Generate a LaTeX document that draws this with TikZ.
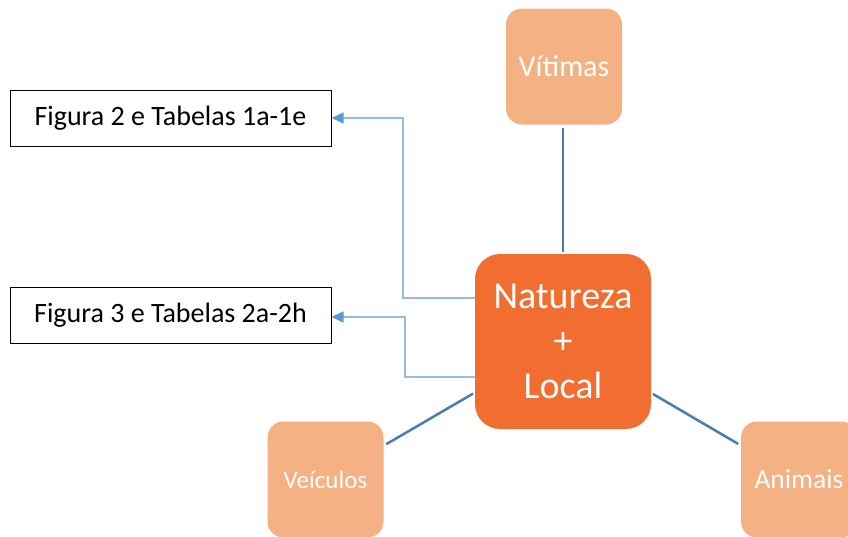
\documentclass[tikz,border=0pt]{standalone}
\usepackage{fontspec}
\setmainfont{Carlito}
\usetikzlibrary{arrows.meta}
\definecolor{ctrorange}{HTML}{F16D30}
\definecolor{lightorange}{HTML}{F4B183}
\definecolor{linkblue}{HTML}{4A7DB0}
\definecolor{arrline}{HTML}{93BCE6}
\definecolor{arrhead}{HTML}{5B9BD5}
\tikzset{
  centerbox/.style={fill=ctrorange, draw=none, rounded corners=25pt, minimum width=176pt, minimum height=175pt, text=white, align=center, inner sep=0pt, font=\fontsize{38}{45}\selectfont},
  outerbox/.style={fill=lightorange, draw=none, rounded corners=16pt, minimum width=116pt, minimum height=116pt, text=white, inner sep=0pt},
  refbox/.style={draw=black, line width=1pt, fill=white, minimum width=321pt, minimum height=56pt, inner sep=0pt, font=\fontsize{28}{34}\selectfont},
  link/.style={draw=linkblue, line width=2.5pt, shorten <=3pt, shorten >=2pt},
  refarrow/.style={draw=arrline, line width=1.5pt, -{Triangle[length=12pt,width=11pt,fill=arrhead,color=arrhead]}}
}
\begin{document}
\begin{tikzpicture}[x=1pt,y=-1pt]
\useasboundingbox (0,0) rectangle (848,536);
\node[centerbox] (ctr) at (563,341.5) {Natureza\\+\\Local};
\node[outerbox, font=\fontsize{30}{36}\selectfont] (vit) at (564,66.5) {Vítimas};
\node[outerbox, font=\fontsize{25}{30}\selectfont] (vei) at (325.5,479.5) {Veículos};
\node[outerbox, font=\fontsize{27.5}{33}\selectfont] (ani) at (799,479.5) {Animais};
\node[refbox] (b1) at (170.5,118) {Figura 2 e Tabelas 1a-1e};
\node[refbox] (b2) at (170.5,315.5) {Figura 3 e Tabelas 2a-2h};
\draw[link] (vit.south -| ctr.north) -- (ctr.north);
\draw[link] (vei) -- (ctr);
\draw[link] (ani) -- (ctr);
\coordinate (a1) at (475,298);
\coordinate (k1) at (403,298);
\coordinate (a2) at (475,377);
\coordinate (k2) at (405,377);
\draw[refarrow] (a1) -- (k1) |- (b1.east);
\draw[refarrow] (a2) -- (k2) |- ([yshift=-1.5pt]b2.east);
\end{tikzpicture}
\end{document}
